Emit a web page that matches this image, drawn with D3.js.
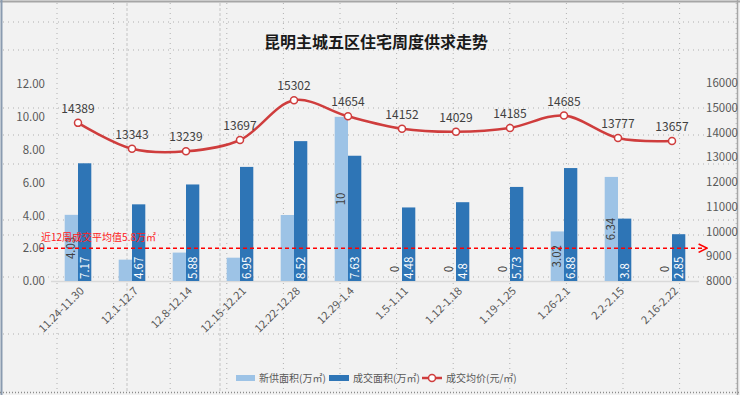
<!DOCTYPE html>
<html>
<head>
<meta charset="utf-8">
<script src="https://cdn.jsdelivr.net/npm/d3@7/dist/d3.min.js"></script>
<style>
  html, body { margin: 0; padding: 0; background: #f2f2f2; }
  #chart { width: 740px; height: 395px; }
  text { font-family: "Noto Sans CJK SC", "Noto Sans", sans-serif; }
</style>
</head>
<body>
<div id="chart"></div>
<script>
var weeks = ["11.24-11.30", "12.1-12.7", "12.8-12.14", "12.15-12.21", "12.22-12.28", "12.29-1.4",
             "1.5-1.11", "1.12-1.18", "1.19-1.25", "1.26-2.1", "2.2-2.15", "2.16-2.22"];
var newSupply = [4.03, 1.3, 1.73, 1.42, 4.02, 10, 0, 0, 0, 3.02, 6.34, 0];
var supplyLabels = ["4.03", null, null, null, null, "10", "0", "0", "0", "3.02", "6.34", "0"];
var dealArea = [7.17, 4.67, 5.88, 6.95, 8.52, 7.63, 4.48, 4.8, 5.73, 6.88, 3.8, 2.85];
var avgPrice = [14389, 13343, 13239, 13697, 15302, 14654, 14152, 14029, 14185, 14685, 13777, 13657];
var leftTicks = [0, 2, 4, 6, 8, 10, 12];
var rightTicks = [8000, 9000, 10000, 11000, 12000, 13000, 14000, 15000, 16000];
var avgLineLevel = 2.0;
var avgText = "近12周成交平均值5.8万㎡";
var seriesNames = ["新供面积(万㎡)", "成交面积(万㎡)", "成交均价(元/㎡)"];
var title = "昆明主城五区住宅周度供求走势";

var width = 740;
var height = 395;
var lightBlue = "#9dc3e6";
var darkBlue = "#2e75b6";
var red = "#cf3d3d";
var textGray = "#595959";

var svg = d3.select("#chart")
  .append("svg")
  .attr("width", width)
  .attr("height", height);

svg.append("rect").attr("width", width).attr("height", height).attr("fill", "#f2f2f2");

// spreadsheet cell grid behind the chart
var sheet = svg.append("g");
var colXs = d3.range(13).map(function(k){ return 57 + k * 56.6; });
colXs.forEach(function(x){
  sheet.append("line")
    .attr("x1", x).attr("x2", x).attr("y1", 3).attr("y2", 392)
    .attr("stroke", "#b0b0b0").attr("stroke-width", 1).attr("stroke-dasharray", "1,4");
});
[127, 220].forEach(function(x){
  sheet.append("line")
    .attr("x1", x).attr("x2", x).attr("y1", 3).attr("y2", 392)
    .attr("stroke", "#c4c4c4").attr("stroke-width", 1).attr("stroke-dasharray", "3,2");
});
[22, 50, 108, 135, 164, 220, 235, 277, 334].forEach(function(y){
  sheet.append("line")
    .attr("x1", 3).attr("x2", 737).attr("y1", y).attr("y2", y)
    .attr("stroke", "#b0b0b0").attr("stroke-width", 1).attr("stroke-dasharray", "1,4");
});
// frame
svg.append("line").attr("x1", 0).attr("x2", 740).attr("y1", 1.5).attr("y2", 1.5).attr("stroke", "#a6a6a6").attr("stroke-width", 2);
svg.append("line").attr("x1", 1.5).attr("x2", 1.5).attr("y1", 0).attr("y2", 395).attr("stroke", "#8a9bb0").attr("stroke-width", 2);
svg.append("line").attr("x1", 737.5).attr("x2", 737.5).attr("y1", 0).attr("y2", 395).attr("stroke", "#a6a6a6").attr("stroke-width", 1.5);
svg.append("line").attr("x1", 0).attr("x2", 740).attr("y1", 392.5).attr("y2", 392.5).attr("stroke", "#8c8c8c").attr("stroke-width", 1.5).attr("stroke-dasharray", "1,2");

// scales
var x = d3.scaleBand().domain(weeks).range([51, 699]).paddingInner(0).paddingOuter(0);
var yL = d3.scaleLinear().domain([0, 12]).range([281, 84]);
var yR = d3.scaleLinear().domain([8000, 16000]).range([281, 83]);
var barW = 13.3;

function cx(d){ return x(d) + x.bandwidth() / 2; }

// title
svg.append("text")
  .attr("x", 376).attr("y", 48)
  .attr("text-anchor", "middle")
  .attr("font-size", "16px").attr("font-weight", "bold").attr("fill", "#1a1a1a")
  .text(title);

// left axis
var leftAxis = d3.axisLeft(yL).tickValues(leftTicks).tickSize(0).tickPadding(0)
  .tickFormat(function(d){ return d3.format(".2f")(d); });
var gL = svg.append("g").attr("transform", "translate(45,0)").call(leftAxis);
gL.select(".domain").remove();
gL.selectAll("text").attr("fill", textGray).attr("font-size", "11.5px").attr("font-family", "\"Noto Sans\", sans-serif");

// right axis
var rightAxis = d3.axisRight(yR).tickValues(rightTicks).tickSize(0).tickPadding(0)
  .tickFormat(d3.format("d"));
var gR = svg.append("g").attr("transform", "translate(706,0)").call(rightAxis);
gR.select(".domain").remove();
gR.selectAll("text").attr("fill", textGray).attr("font-size", "11.5px").attr("font-family", "\"Noto Sans\", sans-serif");

// x axis line
svg.append("line")
  .attr("x1", x.range()[0]).attr("x2", x.range()[1])
  .attr("y1", yL(0) + 0.5).attr("y2", yL(0) + 0.5)
  .attr("stroke", "#d9d9d9").attr("stroke-width", 1.5);

// x labels
var xAxis = d3.axisBottom(x).tickSize(0).tickPadding(0);
var gX = svg.append("g").attr("transform", "translate(0," + (yL(0) + 8) + ")").call(xAxis);
gX.select(".domain").remove();
gX.selectAll("text")
  .attr("fill", textGray).attr("font-size", "11px").attr("font-family", "\"Noto Sans\", sans-serif")
  .attr("text-anchor", "end")
  .attr("dy", "0.35em")
  .attr("transform", "translate(4,0) rotate(-45)");

// bars
var bars = svg.append("g");
bars.selectAll(".supply").data(weeks).enter().append("rect")
  .attr("x", function(d){ return cx(d) - barW; })
  .attr("width", barW)
  .attr("y", function(d, i){ return yL(newSupply[i]); })
  .attr("height", function(d, i){ return yL(0) - yL(newSupply[i]); })
  .attr("fill", lightBlue);
bars.selectAll(".deal").data(weeks).enter().append("rect")
  .attr("x", function(d){ return cx(d); })
  .attr("width", barW)
  .attr("y", function(d, i){ return yL(dealArea[i]); })
  .attr("height", function(d, i){ return yL(0) - yL(dealArea[i]); })
  .attr("fill", darkBlue);

// supply labels (centered in bar)
weeks.forEach(function(d, i){
  if (supplyLabels[i] === null) return;
  var mid = (yL(0) + yL(newSupply[i])) / 2;
  mid = Math.min(mid, yL(0) - 12);
  svg.append("text")
    .attr("transform", "translate(" + (cx(d) - barW / 2 + 4) + "," + mid + ") rotate(-90)")
    .attr("text-anchor", "middle")
    .attr("font-size", "11.5px").attr("fill", "#404040")
    .attr("font-family", "\"Noto Sans\", sans-serif")
    .text(supplyLabels[i]);
});
// deal labels (inside base)
weeks.forEach(function(d, i){
  svg.append("text")
    .attr("transform", "translate(" + (cx(d) + barW / 2 + 4) + "," + (yL(0) - 2) + ") rotate(-90)")
    .attr("text-anchor", "start")
    .attr("font-size", "11.5px").attr("fill", "#ffffff")
    .attr("font-family", "\"Noto Sans\", sans-serif")
    .text(d3.format("")(dealArea[i]));
});

// average dashed line
var avgY = yL(avgLineLevel);
svg.append("defs").append("marker")
  .attr("id", "arrow").attr("viewBox", "0 0 10 10")
  .attr("refX", 9).attr("refY", 5)
  .attr("markerWidth", 7).attr("markerHeight", 7)
  .attr("orient", "auto")
  .append("path").attr("d", "M1,1 L9,5 L1,9").attr("fill", "none").attr("stroke", "#ff0000").attr("stroke-width", 1.5);
svg.append("line")
  .attr("x1", 40).attr("x2", 707)
  .attr("y1", avgY).attr("y2", avgY)
  .attr("stroke", "#ff0000").attr("stroke-width", 1.5).attr("stroke-dasharray", "4,3")
  .attr("marker-end", "url(#arrow)");
svg.append("text")
  .attr("x", 41).attr("y", avgY - 7)
  .attr("font-size", "10px").attr("fill", "#ff2020")
  .text(avgText);

// price line
var line = d3.line()
  .x(function(d, i){ return cx(weeks[i]); })
  .y(function(d){ return yR(d); })
  .curve(d3.curveCatmullRom.alpha(0.5));
svg.append("path")
  .datum(avgPrice)
  .attr("d", line)
  .attr("fill", "none").attr("stroke", red).attr("stroke-width", 2.5);
svg.selectAll(".pt").data(avgPrice).enter().append("circle")
  .attr("cx", function(d, i){ return cx(weeks[i]); })
  .attr("cy", function(d){ return yR(d); })
  .attr("r", 3.5)
  .attr("fill", "#ffffff").attr("stroke", red).attr("stroke-width", 1.5);
svg.selectAll(".pl").data(avgPrice).enter().append("text")
  .attr("x", function(d, i){ return cx(weeks[i]); })
  .attr("y", function(d){ return yR(d) - 10; })
  .attr("text-anchor", "middle")
  .attr("font-size", "12px").attr("fill", "#404040")
  .attr("font-family", "\"Noto Sans\", sans-serif")
  .text(function(d){ return d; });

// legend
var legend = svg.append("g").attr("transform", "translate(0,378)");
var legendFont = "10px";
legend.append("rect").attr("x", 236).attr("y", -3).attr("width", 19).attr("height", 6).attr("fill", lightBlue);
legend.append("text").attr("x", 259).attr("y", 4).attr("font-size", legendFont).attr("fill", textGray).text(seriesNames[0]);
legend.append("rect").attr("x", 329).attr("y", -3).attr("width", 20).attr("height", 6).attr("fill", darkBlue);
legend.append("text").attr("x", 353).attr("y", 4).attr("font-size", legendFont).attr("fill", textGray).text(seriesNames[1]);
legend.append("line").attr("x1", 422).attr("x2", 442).attr("y1", 0).attr("y2", 0).attr("stroke", red).attr("stroke-width", 2.5);
legend.append("circle").attr("cx", 432).attr("cy", 0).attr("r", 3.5).attr("fill", "#fff").attr("stroke", red).attr("stroke-width", 1.5);
legend.append("text").attr("x", 446).attr("y", 4).attr("font-size", legendFont).attr("fill", textGray).text(seriesNames[2]);
</script>
</body>
</html>
